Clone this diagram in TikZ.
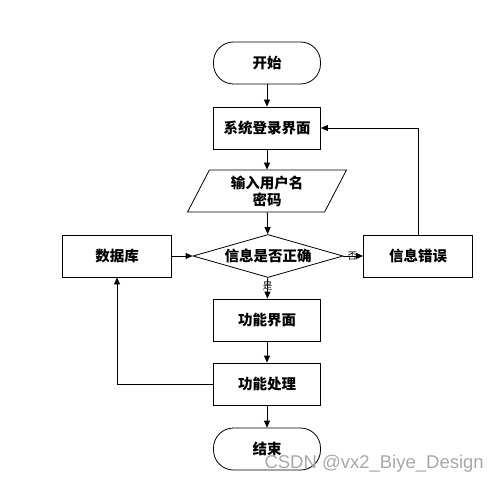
\documentclass[tikz,border=0pt]{standalone}
\usepackage{fontspec}
\newfontfamily\cjk{Noto Sans CJK SC}
\newfontfamily\wmfont{Liberation Sans}
\usetikzlibrary{arrows.meta,shapes.geometric}
\definecolor{linec}{HTML}{000000}
\definecolor{wmark}{HTML}{A8A8A8}

\tikzset{
  flowbox/.style={draw=linec,line width=0.8pt,minimum width=107pt,minimum height=42pt,
    inner sep=0pt,font=\cjk\bfseries\fontsize{14.5}{17}\selectfont},
  termbox/.style={flowbox,rounded corners=20pt},
  iobox/.style={flowbox,trapezium,trapezium left angle=66,trapezium right angle=114,
    trapezium stretches=true,minimum width=159pt,align=center},
  decbox/.style={flowbox,diamond,aspect=3.5,minimum width=150pt,minimum height=43pt},
  flow/.style={line width=0.8pt,-{Triangle[length=7pt,width=6pt]}},
  tag/.style={font=\cjk\fontsize{9.5}{10}\selectfont,inner sep=0pt}
}

\begin{document}
\begin{tikzpicture}[x=1pt,y=-1pt]
  \useasboundingbox (0,0) rectangle (498,484);

  % main column
  \node[termbox] (start) at (267,63) {开始};
  \node[flowbox] (login) at (267,128) {系统登录界面};
  \node[iobox]   (input) at (267,191) {输入用户名\\密码};
  \node[decbox]  (check) at (268,256) {信息是否正确};
  \node[flowbox] (func)  at (267,320) {功能界面};
  \node[flowbox] (proc)  at (267,384) {功能处理};
  \node[termbox] (stop)  at (267,449) {结束};

  % side boxes
  \node[flowbox,minimum width=109pt] (db)  at (117,256) {数据库};
  \node[flowbox,minimum width=109pt] (err) at (418,256) {信息错误};

  \draw[flow] (start) -- (login);
  \draw[flow] (login) -- (input);
  \draw[flow] (input) -- (check);
  \draw[flow] (check) -- node[tag,pos=0.4] {是} (func);
  \draw[flow] (func) -- (proc);
  \draw[flow] (proc) -- (stop);
  \draw[flow] (db) -- (check);
  \draw[flow] (check) -- node[tag,pos=0.45] {否} (err);

  % loops back
  \draw[flow] (err.north) |- (login.east);
  \draw[flow] (proc.west) -| (db.south);

  \node[font=\wmfont\fontsize{18.5}{20}\selectfont,text=wmark,anchor=east,inner sep=0pt] (wm) at (484,464) {CSDN @vx2\_Biye\_Design};
\end{tikzpicture}
\end{document}
